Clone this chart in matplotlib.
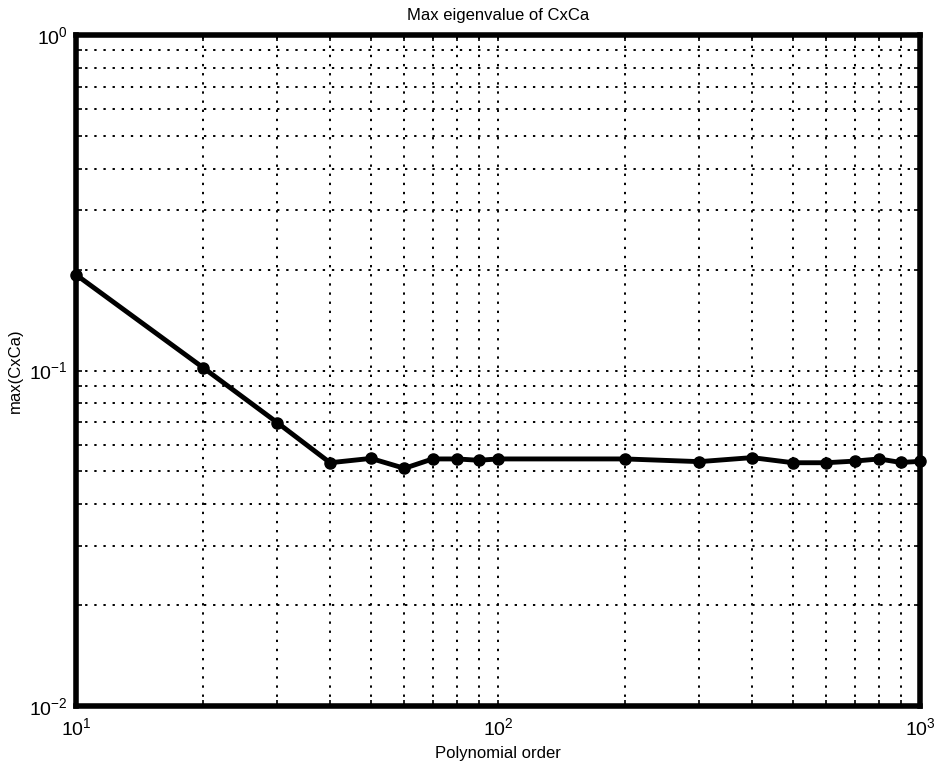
import numpy as np
import matplotlib.pyplot as plt

plt.rcParams['font.family'] = ['Liberation Sans', 'DejaVu Sans']

# polynomial order and max eigenvalue of CxCa
order = [10, 20, 30, 40, 50, 60, 70, 80, 90, 100,
         200, 300, 400, 500, 600, 700, 800, 900, 1000]
max_eig = [0.193, 0.102, 0.0699, 0.0531, 0.0547, 0.0511, 0.0545, 0.0545, 0.0540, 0.0545,
           0.0545, 0.0535, 0.0550, 0.0531, 0.0531, 0.0537, 0.0545, 0.0532, 0.0536]

fig = plt.figure(figsize=(9.37, 7.65), dpi=100)
ax = fig.add_axes([76 / 937, 1 - 706 / 765, 844 / 937, 671 / 765])

ax.loglog(order, max_eig, color='black', lw=3.5, marker='o', ms=8, zorder=3, clip_on=False)
ax.set_xlim(10, 1000)
ax.set_ylim(0.01, 1)

ax.grid(True, which='both', color='black', linestyle=(0, (1.2, 3.5)), lw=1.4)
ax.tick_params(which='both', direction='in', labelsize=14, length=4, width=1.2,
               top=True, right=True)
ax.tick_params(axis='x', pad=8)
ax.tick_params(axis='y', pad=6)
for s in ax.spines.values():
    s.set_linewidth(4)

ax.set_title('Max eigenvalue of CxCa', fontsize=12, pad=11)
ax.set_xlabel('Polynomial order', fontsize=12, labelpad=5)
ax.set_ylabel('max(CxCa)', fontsize=12, labelpad=4)

fig.savefig('out.png', dpi=100)
